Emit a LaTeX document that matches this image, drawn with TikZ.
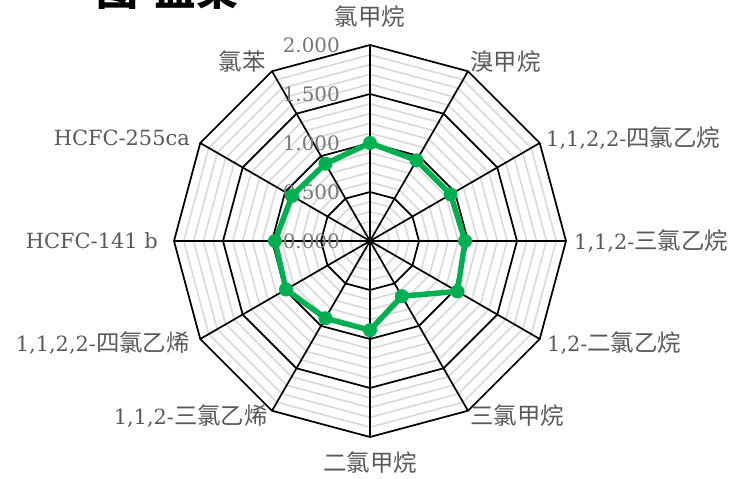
\documentclass[tikz,border=0pt]{standalone}
\usepackage{fontspec}
\setmainfont{DejaVu Serif}
\newfontfamily\cjk[Scale=1.12]{Noto Sans CJK SC}
\newfontfamily\cjktitle{Noto Sans CJK SC}
\newcommand{\zh}[1]{{\cjk #1}}

\definecolor{r89g89b89}{RGB}{89,89,89}
\definecolor{r118g118b118}{RGB}{118,118,118}
\definecolor{r217g217b217}{RGB}{217,217,217}
\definecolor{r0g176b80}{RGB}{0,176,80}

\tikzset{
  catlabel/.style={text=r89g89b89, inner sep=0pt, font=\fontsize{21}{24}\selectfont},
  vallabel/.style={text=r118g118b118, inner sep=0pt, anchor=east, font=\fontsize{20}{24}\selectfont},
  minorgrid/.style={draw=r217g217b217, line width=1.6bp},
  majorgrid/.style={draw=black, line width=1.7bp},
  series/.style={draw=r0g176b80, line width=5.5bp, line join=round},
  marker/.style={circle, fill=r0g176b80, inner sep=0pt, minimum size=14bp}
}

\begin{document}
\begin{tikzpicture}[x=1bp, y=1bp]
  \useasboundingbox (-370,-238) rectangle (362,241);

  % Title, cut off by the top edge
  \node[anchor=base west, inner sep=0pt, font=\cjktitle\bfseries\fontsize{42}{46}\selectfont] (title) at (-274,235) {图\hspace{0.4em}盐某};

  % Minor grid polygons, every 0.1
  \foreach \i in {1,...,20} {
    \pgfmathsetmacro\r{9.8*\i}
    \draw[minorgrid] (90:\r) \foreach \k in {1,...,11} { -- ({90-30*\k}:\r) } -- cycle;
  }

  % Major grid polygons, every 0.5
  \foreach \i in {1,...,4} {
    \pgfmathsetmacro\r{49*\i}
    \draw[majorgrid] (90:\r) \foreach \k in {1,...,11} { -- ({90-30*\k}:\r) } -- cycle;
  }

  % Spokes
  \coordinate (ctr) at (0,0);
  \foreach \k in {0,...,11} {
    \coordinate (ax\k) at ({90-30*\k}:196);
    \draw[majorgrid] (ctr) -- (ax\k);
  }

  % Value axis labels
  \foreach \v [count=\j from 0] in {0.000,0.500,1.000,1.500,2.000}
    \node[vallabel] (tick\j) at (-30,{49*\j}) {\v};

  % Category labels
  \node[catlabel, anchor=center] (c0) at (0,224) {\zh{氯甲烷}};
  \node[catlabel, anchor=west] (c1) at (100,179) {\zh{溴甲烷}};
  \node[catlabel, anchor=west] (c2) at (176,103) {1,1,2,2-\zh{四氯乙烷}};
  \node[catlabel, anchor=west] (c3) at (204,0) {1,1,2-\zh{三氯乙烷}};
  \node[catlabel, anchor=west] (c4) at (177,-102) {1,2-\zh{二氯乙烷}};
  \node[catlabel, anchor=west] (c5) at (100,-175) {\zh{三氯甲烷}};
  \node[catlabel, anchor=center] (c6) at (0,-222) {\zh{二氯甲烷}};
  \node[catlabel, anchor=east] (c7) at (-102,-175) {1,1,2-\zh{三氯乙烯}};
  \node[catlabel, anchor=east] (c8) at (-180,-102) {1,1,2,2-\zh{四氯乙烯}};
  \node[catlabel, anchor=east] (c9) at (-212,0) {HCFC-141 b};
  \node[catlabel, anchor=east] (c10) at (-180,103) {HCFC-255ca};
  \node[catlabel, anchor=east] (c11) at (-104,179) {\zh{氯苯}};

  % Data series
  \foreach \v [count=\k from 0] in {1.00,0.95,0.95,0.97,1.03,0.65,0.91,0.91,0.99,0.97,0.92,0.91}
    \coordinate (p\k) at ({90-30*\k}:{98*\v});
  \draw[series] (p0) -- (p1) -- (p2) -- (p3) -- (p4) -- (p5) -- (p6)
    -- (p7) -- (p8) -- (p9) -- (p10) -- (p11) -- cycle;
  \foreach \k in {0,...,11}
    \node[marker] (m\k) at (p\k) {};
\end{tikzpicture}
\end{document}
